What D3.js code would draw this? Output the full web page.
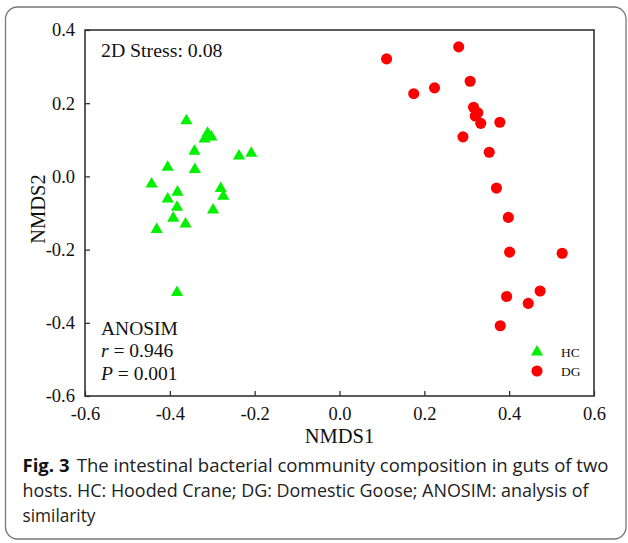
<!DOCTYPE html>
<html>
<head>
<meta charset="utf-8">
<script src="https://cdn.jsdelivr.net/npm/d3@7"></script>
<style>
  html, body { margin: 0; padding: 0; background: #fff; }
  svg { display: block; }
</style>
</head>
<body>
<svg id="chart" width="628" height="543"></svg>
<script>
// ---- data ----
const hcX = [-0.361, -0.311, -0.318, -0.302, -0.342, -0.237, -0.208, -0.405, -0.341, -0.443,
             -0.382, -0.405, -0.280, -0.274, -0.383, -0.298, -0.392, -0.363, -0.431, -0.383];
const hcY = [0.152, 0.118, 0.102, 0.108, 0.069, 0.056, 0.063, 0.025, 0.019, -0.021,
             -0.043, -0.062, -0.033, -0.054, -0.084, -0.092, -0.114, -0.130, -0.145, -0.317];
const dgX = [0.111, 0.281, 0.308, 0.175, 0.224, 0.316, 0.326, 0.320, 0.333, 0.378,
             0.291, 0.353, 0.370, 0.398, 0.401, 0.525, 0.473, 0.394, 0.445, 0.379];
const dgY = [0.321, 0.354, 0.260, 0.226, 0.242, 0.189, 0.174, 0.165, 0.145, 0.148,
             0.108, 0.066, -0.032, -0.112, -0.207, -0.210, -0.313, -0.328, -0.347, -0.408];
const xTicks = [-0.6, -0.4, -0.2, 0.0, 0.2, 0.4, 0.6];
const yTicks = [-0.6, -0.4, -0.2, 0.0, 0.2, 0.4];
const seriesNames = ["HC", "DG"];
const captionLines = [
  "The intestinal bacterial community composition in guts of two",
  "hosts. HC: Hooded Crane; DG: Domestic Goose; ANOSIM: analysis of",
  "similarity"
];

// ---- drawing ----
const svg = d3.select("#chart");
const serif = "'Liberation Serif', 'Times New Roman', serif";
const sans = "'Open Sans', 'Noto Sans', sans-serif";

// outer rounded frame
svg.append("rect")
  .attr("x", 5.5).attr("y", 7).attr("width", 620.5).attr("height", 532)
  .attr("rx", 12).attr("ry", 12)
  .attr("fill", "none").attr("stroke", "#777").attr("stroke-width", 1.3);

const L = 85, R = 594, T = 30, B = 396;
const x = d3.scaleLinear().domain([-0.6, 0.6]).range([L, R]);
const y = d3.scaleLinear().domain([-0.6, 0.4]).range([B, T]);

// axes
const fmt = d => d3.format(".1f")(d).replace("\u2212", "-");
const xAxis = d3.axisBottom(x).tickValues(xTicks).tickSize(-5).tickPadding(11).tickFormat(fmt);
const yAxis = d3.axisLeft(y).tickValues(yTicks).tickSize(-5).tickPadding(10).tickFormat(fmt);

const gx = svg.append("g").attr("transform", `translate(0,${B})`).call(xAxis);
const gy = svg.append("g").attr("transform", `translate(${L},0)`).call(yAxis);
[gx, gy].forEach(g => {
  g.select(".domain").remove();
  g.selectAll(".tick line").attr("stroke", "#222").attr("stroke-width", 1.2);
  g.selectAll(".tick text").attr("font-family", serif).attr("font-size", 18.5)
    .attr("fill", "#111");
});
gx.selectAll(".tick text").attr("dy", "0.71em");
gy.selectAll(".tick text").attr("dy", "0.32em");

// plot frame
svg.append("rect")
  .attr("x", L).attr("y", T).attr("width", R - L).attr("height", B - T)
  .attr("fill", "none").attr("stroke", "#333").attr("stroke-width", 1.6);

// axis titles
svg.append("text").attr("x", (L + R) / 2).attr("y", 443)
  .attr("text-anchor", "middle").attr("font-family", serif).attr("font-size", 20.5)
  .attr("fill", "#111").text("NMDS1");
svg.append("text").attr("transform", `translate(45,209) rotate(-90)`)
  .attr("text-anchor", "middle").attr("font-family", serif).attr("font-size", 20.5)
  .attr("fill", "#111").text("NMDS2");

// points
const tri = d3.symbol().type(d3.symbolTriangle).size(64);
const circ = d3.symbol().type(d3.symbolCircle).size(97);
svg.append("g").selectAll("path").data(hcX.map((v, i) => [v, hcY[i]]))
  .join("path").attr("d", tri)
  .attr("transform", d => `translate(${x(d[0])},${y(d[1])})`)
  .attr("fill", "#00f000");
svg.append("g").selectAll("path").data(dgX.map((v, i) => [v, dgY[i]]))
  .join("path").attr("d", circ)
  .attr("transform", d => `translate(${x(d[0])},${y(d[1])})`)
  .attr("fill", "#ff0000");

// legend
const leg = svg.append("g");
leg.append("path").attr("d", tri).attr("transform", "translate(537,352)").attr("fill", "#00f000");
leg.append("path").attr("d", circ).attr("transform", "translate(537,371)").attr("fill", "#ff0000");
seriesNames.forEach((n, i) => {
  leg.append("text").attr("x", 561).attr("y", 357 + i * 18.5)
    .attr("font-family", serif).attr("font-size", 13.5).attr("fill", "#111").text(n);
});

// annotations
svg.append("text").attr("x", 101).attr("y", 57).attr("font-family", serif)
  .attr("font-size", 19.8).attr("fill", "#111").text("2D Stress: 0.08");
svg.append("text").attr("x", 101).attr("y", 335).attr("font-family", serif)
  .attr("font-size", 19.5).attr("fill", "#111").text("ANOSIM");
const t2 = svg.append("text").attr("x", 101).attr("y", 357).attr("font-family", serif)
  .attr("font-size", 19.5).attr("fill", "#111");
t2.append("tspan").attr("font-style", "italic").text("r");
t2.append("tspan").text(" = 0.946");
const t3 = svg.append("text").attr("x", 101).attr("y", 380).attr("font-family", serif)
  .attr("font-size", 19.5).attr("fill", "#111");
t3.append("tspan").attr("font-style", "italic").text("P");
t3.append("tspan").text(" = 0.001");

// caption
const cap = svg.append("g").attr("font-family", sans).attr("font-size", 18).attr("fill", "#222");
const l1 = cap.append("text").attr("x", 22.5).attr("y", 472)
  .attr("textLength", 586).attr("lengthAdjust", "spacingAndGlyphs");
l1.append("tspan").attr("font-weight", "bold").attr("fill", "#111").text("Fig. 3");
l1.append("tspan").attr("dx", 7).text(captionLines[0]);
cap.append("text").attr("x", 22.5).attr("y", 497)
  .attr("textLength", 566).attr("lengthAdjust", "spacingAndGlyphs").text(captionLines[1]);
cap.append("text").attr("x", 22.5).attr("y", 522)
  .attr("textLength", 73).attr("lengthAdjust", "spacingAndGlyphs").text(captionLines[2]);
</script>
</body>
</html>
